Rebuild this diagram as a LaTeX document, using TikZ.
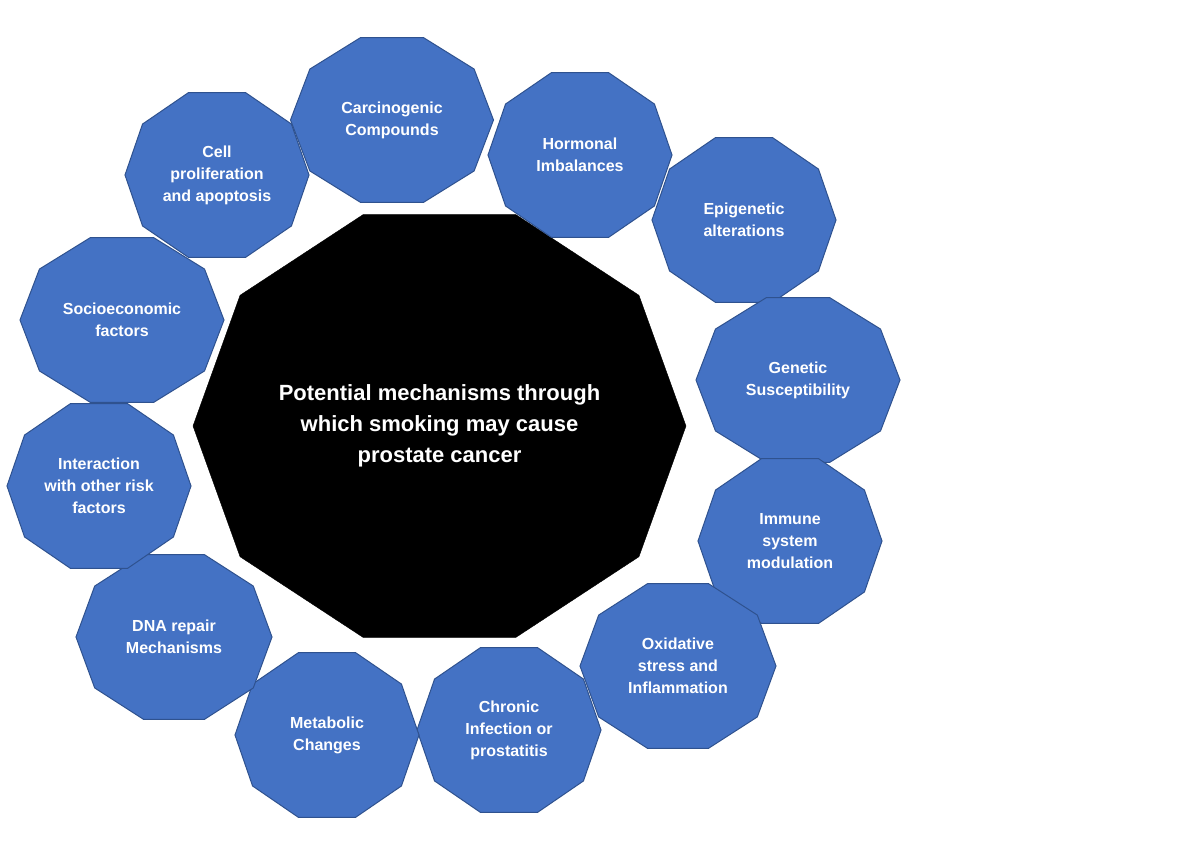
\documentclass[tikz,border=0pt]{standalone}
\usepackage{fontspec}
\setmainfont{Liberation Sans}
\definecolor{petal}{HTML}{4472C4}
\definecolor{petalrim}{HTML}{2F528F}
% decagon: centre x, centre y, x radius, y radius, style
\newcommand\decagon[5]{%
  \draw[#5] ({#1+#3},#2) \foreach \i in {1,...,9}{ -- ({#1+#3*cos(36*\i)},{#2+#4*sin(36*\i)})} -- cycle;}
\tikzset{
  petalshape/.style={fill=petal,draw=petalrim,line width=1pt},
  petaltext/.style={text=white,font=\bfseries\fontsize{16}{22}\selectfont,align=center},
  hubtext/.style={text=white,font=\bfseries\fontsize{22}{31}\selectfont,align=center}
}
\begin{document}
\begin{tikzpicture}[x=1pt,y=-1pt]
  \useasboundingbox[fill=white] (0,0) rectangle (1200,859);
  \decagon{439.5}{426}{246.5}{222.4}{fill=black}
  \node[hubtext] (hub) at (439.5,426) {Potential mechanisms through\\which smoking may cause\\prostate cancer};
  \foreach \cx/\cy/\rx/\name/\txt in {
      392/120/101.5/carc/{Carcinogenic\\Compounds},
      580/155/92/horm/{Hormonal\\Imbalances},
      744/220/92/epig/{Epigenetic\\alterations},
      798/380/102/gene/{Genetic\\Susceptibility},
      790/541/92/immu/{Immune\\system\\modulation},
      678/666/98/oxid/{Oxidative\\stress and\\Inflammation},
      509/730/92/chro/{Chronic\\Infection or\\prostatitis},
      327/735/92/meta/{Metabolic\\Changes},
      174/637/98/dnar/{DNA repair\\Mechanisms},
      99/486/92/inte/{Interaction\\with other risk\\factors},
      122/320/102/soci/{Socioeconomic\\factors},
      217/175/92/cell/{Cell\\proliferation\\and apoptosis}}{
    \decagon{\cx}{\cy}{\rx}{86.7}{petalshape}
    \node[petaltext] (\name) at (\cx,\cy) {\txt};
  }
\end{tikzpicture}
\end{document}
